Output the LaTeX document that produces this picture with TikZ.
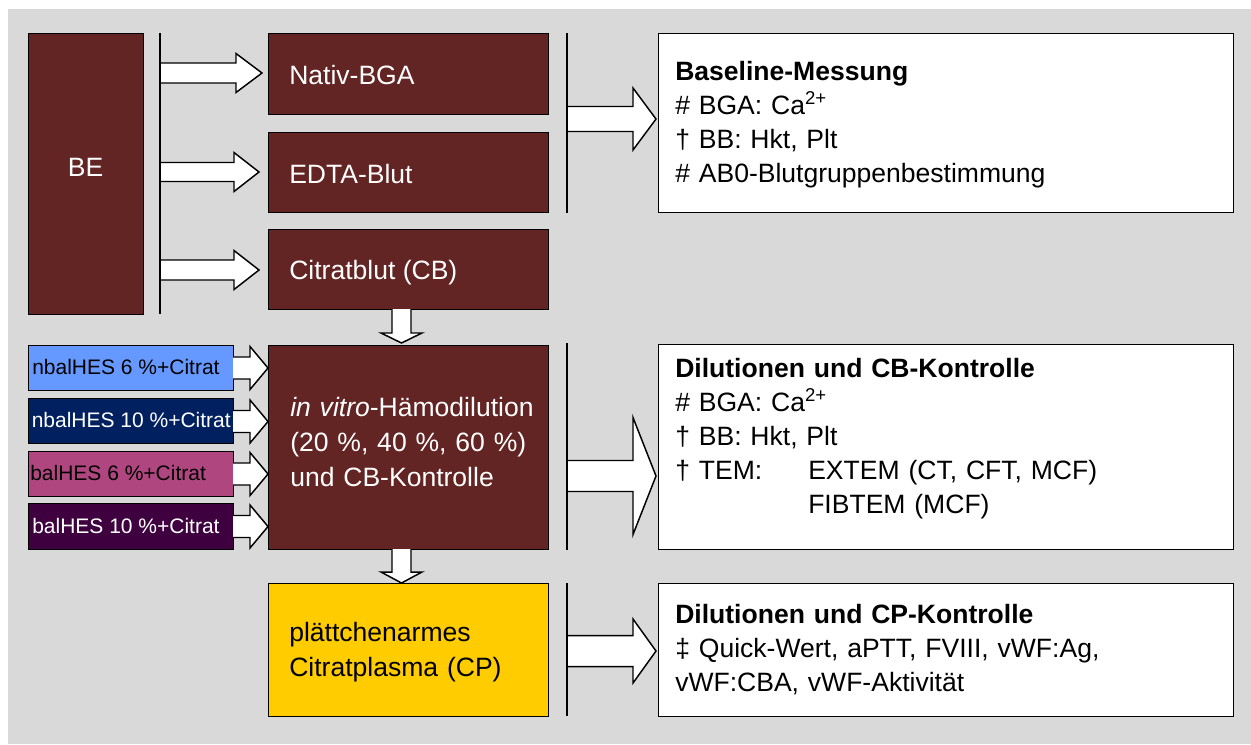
\documentclass[tikz,border=0pt]{standalone}
\usepackage{fontspec}
\setmainfont{Liberation Sans}
\definecolor{bgc}{HTML}{D9D9D9}
\definecolor{dred}{HTML}{632523}
\definecolor{lblue}{HTML}{6699FF}
\definecolor{navyc}{HTML}{002060}
\definecolor{pinkm}{HTML}{B0467F}
\definecolor{dpurp}{HTML}{3F0040}
\definecolor{goldc}{HTML}{FFCC00}
% box from (x0,y0) to (x1,y1) in px
\newcommand\bx[6][]{\node[boxst,#1,anchor=north west,minimum width={(#5-#3)*0.75pt},minimum height={(#6-#4)*0.75pt}] (#2) at (#3,#4) {};}
% right block arrow: x0, x1 (head start), x2 (tip), yc, shaft half, head half
\newcommand\rarr[6]{\draw[barr] (#1,{#4-#5}) -- (#2,{#4-#5}) -- (#2,{#4-#6}) -- (#3,#4) -- (#2,{#4+#6}) -- (#2,{#4+#5}) -- (#1,{#4+#5});}
% down block arrow: xc, y0, y1 (head start), y2 (tip), shaft half, head half
\newcommand\darr[6]{\draw[barr] ({#1-#5},#2) -- ({#1-#5},#3) -- ({#1-#6},#3) -- (#1,#4) -- ({#1+#6},#3) -- ({#1+#5},#3) -- ({#1+#5},#2);}
\begin{document}
\begin{tikzpicture}[x=0.75pt,y=-0.75pt,
  boxst/.style={draw=black,line width=1.1pt,inner sep=0pt},
  barr/.style={draw=black,fill=white,line width=1.1pt,line join=miter},
  sepline/.style={draw=black,line width=1.1pt},
  lbl/.style={inner sep=0pt,anchor=base west,align=left,font=\fontsize{19.9pt}{26.25pt}\selectfont},
  rlbl/.style={inner sep=0pt,anchor=base west,align=left,font=\fontsize{19.9pt}{25.6pt}\selectfont,text width=420pt},
  slbl/.style={inner sep=0pt,anchor=base west,font=\fontsize{15.75pt}{18pt}\selectfont},
]
\useasboundingbox (0,0) rectangle (1251,744);
\fill[bgc] (8,9) rectangle (1251,744);

% boxes
\bx[fill=dred]{be}{28}{33}{143}{314}
\bx[fill=dred]{nativ}{268}{33}{548}{114}
\bx[fill=dred]{edta}{268}{132}{548}{212}
\bx[fill=dred]{citrat}{268}{229}{548}{309}
\bx[fill=lblue]{nb6}{28}{345}{233}{390}
\bx[fill=navyc]{nb10}{28}{398}{233}{443}
\bx[fill=pinkm]{b6}{28}{451}{233}{496}
\bx[fill=dpurp]{b10}{28}{503}{233}{549}
\bx[fill=dred]{dil}{268}{345}{548}{549}
\bx[fill=goldc]{cp}{268}{583}{548}{716}
\bx[fill=white]{base}{658}{33}{1233}{212}
\bx[fill=white]{mess}{658}{344}{1233}{549}
\bx[fill=white]{cpmess}{658}{583}{1233}{716}

% block arrows
\rarr{160}{236}{262}{73}{10}{19.5}
\rarr{160}{234}{259}{172}{9.5}{19.5}
\rarr{160}{234}{259}{270}{10}{19.5}
\rarr{233}{250}{268}{368}{11}{21.5}
\rarr{233}{250}{268}{421.5}{11}{21.5}
\rarr{233}{250}{268}{474}{11}{21.5}
\rarr{233}{250}{268}{526.5}{11}{21.5}
\rarr{567}{633}{656}{119}{12.5}{31}
\rarr{567}{633}{656}{476}{15.5}{58.5}
\rarr{567}{633}{656}{651}{15.5}{32}
\darr{401.5}{309}{333}{343}{9.5}{20.5}
\darr{401.5}{549}{572}{583}{9.5}{20.5}

% separator lines
\coordinate (s1a) at (160,33); \coordinate (s1b) at (160,314);
\coordinate (s2a) at (567,33); \coordinate (s2b) at (567,213);
\coordinate (s3a) at (567,343); \coordinate (s3b) at (567,550);
\coordinate (s4a) at (567,583); \coordinate (s4b) at (567,716);
\draw[sepline] (s1a) -- (s1b);
\draw[sepline] (s2a) -- (s2b);
\draw[sepline] (s3a) -- (s3b);
\draw[sepline] (s4a) -- (s4b);

% texts
\node[lbl,anchor=base,text=white] (beT) at (85.5,176) {BE};
\node[lbl,text=white] (nativT) at (289,84) {Nativ-BGA};
\node[lbl,text=white] (edtaT) at (289,183) {EDTA-Blut};
\node[lbl,text=white] (citratT) at (289,279) {Citratblut (CB)};
\node[lbl,text=white,text width=250pt] (dilT) at (290,416) {\textit{in vitro}-Hämodilution\\(20 \%, 40 \%, 60 \%)\\und CB-Kontrolle};
\node[lbl,text=black,text width=200pt] (cpT) at (289,641) {plättchenarmes\\Citratplasma (CP)};
\node[slbl,text=black] (nb6T) at (32,374) {nbalHES 6 \%+Citrat};
\node[slbl,text=white] (nb10T) at (31.5,427.5) {nbalHES 10 \%+Citrat};
\node[slbl,text=black] (b6T) at (30,480.5) {balHES 6 \%+Citrat};
\node[slbl,text=white] (b10T) at (32,533) {balHES 10 \%+Citrat};
\node[rlbl] (baseT) at (675,80) {\textbf{Baseline-Messung}\\\# BGA: Ca\textsuperscript{2+}\\† BB: Hkt, Plt\\\# AB0-Blutgruppenbestimmung};
\node[rlbl] (messT) at (675,377) {\textbf{Dilutionen und CB-Kontrolle}\\\# BGA: Ca\textsuperscript{2+}\\† BB: Hkt, Plt\\\makebox[99.75pt][l]{† TEM:}EXTEM (CT, CFT, MCF)\\\hspace*{99.75pt}FIBTEM (MCF)};
\node[rlbl] (cpmessT) at (675,623) {\textbf{Dilutionen und CP-Kontrolle}\\‡ Quick-Wert, aPTT, FVIII, vWF:Ag,\\vWF:CBA, vWF-Aktivität};
\end{tikzpicture}
\end{document}
